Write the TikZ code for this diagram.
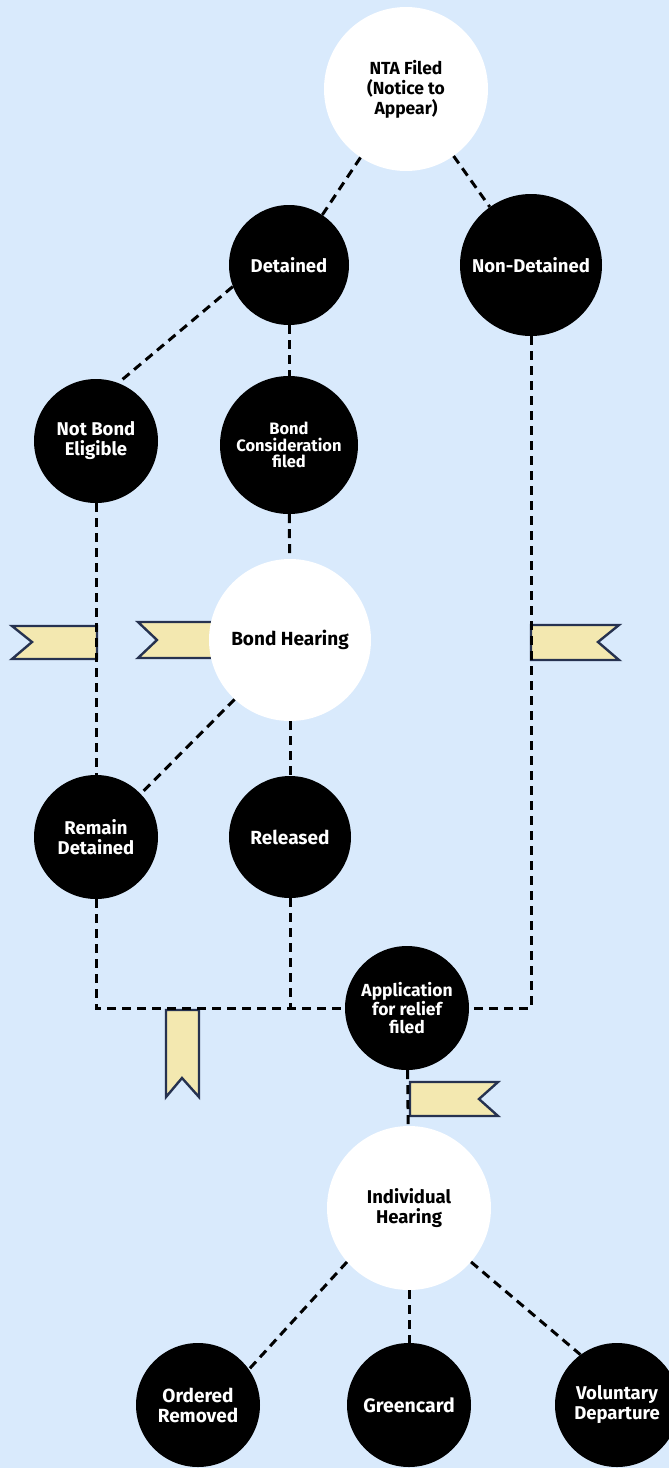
\documentclass[tikz,border=0pt]{standalone}
\usepackage{fontspec}
\setmainfont{Fira Sans}
\usetikzlibrary{backgrounds}
\definecolor{bgblue}{RGB}{217,234,252}
\definecolor{ribfill}{RGB}{243,232,176}
\definecolor{ribline}{RGB}{38,50,80}
\begin{document}
\begin{tikzpicture}[x=1pt,y=-1pt,
 wnode/.style={circle,fill=white,inner sep=0pt,align=center,text=black,font=\bfseries\fontsize{18.5}{20}\selectfont},
 bnode/.style={circle,fill=black,inner sep=0pt,align=center,text=white,font=\bfseries\fontsize{18.5}{20}\selectfont},
 conn/.style={draw=black,line width=3pt,dash pattern=on 9pt off 6pt},
 ribbon/.style={fill=ribfill,draw=ribline,line width=2.4pt,line join=miter}]
\useasboundingbox (0,0) rectangle (669,1468);

\node[wnode,minimum size=164pt,font=\bfseries\fontsize{17.5}{20}\selectfont] (nta) at (406,89) {NTA Filed\\(Notice to\\Appear)};
\node[bnode,minimum size=120pt] (det) at (289,265) {Detained};
\node[bnode,minimum size=142pt] (nd) at (531,265) {Non-Detained};
\node[bnode,minimum size=124pt] (nbe) at (96,441) {Not Bond\\Eligible};
\node[bnode,minimum size=138pt,font=\bfseries\fontsize{16.5}{16.5}\selectfont] (bcf) at (289,445) {Bond\\Consideration\\filed};
\node[wnode,minimum size=162pt,font=\bfseries\fontsize{19}{20}\selectfont] (bh) at (290,640) {Bond Hearing};
\node[bnode,minimum size=124pt] (rd) at (96,837) {Remain\\Detained};
\node[bnode,minimum size=122pt,font=\bfseries\fontsize{19}{20}\selectfont] (rel) at (290,837) {Released};
\node[bnode,minimum size=124pt,font=\bfseries\fontsize{17.5}{18}\selectfont] (app) at (407,1008) {Application\\for relief\\filed};
\node[wnode,minimum size=164pt] (ih) at (409,1208) {Individual\\Hearing};
\node[bnode,minimum size=124pt,font=\bfseries\fontsize{19}{20}\selectfont] (or) at (198,1405) {Ordered\\Removed};
\node[bnode,minimum size=124pt,font=\bfseries\fontsize{19.5}{20}\selectfont] (gc) at (409,1405) {Greencard};
\node[bnode,minimum size=124pt] (vd) at (617,1405) {Voluntary\\Departure};

\draw[conn] (nta) -- (det);
\draw[conn] (nta) -- (nd);
\draw[conn] (det.201) -- (nbe.69);
\draw[conn] (det) -- (bcf);
\draw[conn] (nbe) -- (rd);
\draw[conn] (bcf) -- (bh);
\draw[conn] (bh.227) -- (rd.44);
\draw[conn] (bh) -- (rel);
\draw[conn] (nd.south) |- (app.east);
\draw[conn] (rd.south) |- (app.west);
\draw[conn] (rel.south) -- (rel.south |- app.west);
\draw[conn] (app) -- (ih);
\draw[conn] (ih.221) -- (or.35);
\draw[conn] (ih) -- (gc);
\draw[conn] (ih.-41) -- (vd.126);

\begin{scope}[on background layer]
\fill[bgblue] (0,0) rectangle (669,1468);
\draw[ribbon] (97,626) -- (12,626) -- (32,642) -- (12,659) -- (97,659) -- cycle;
\draw[ribbon] (250,622) -- (138,622) -- (157,640) -- (138,658) -- (250,658) -- cycle;
\draw[ribbon] (531,625) -- (619,625) -- (598,642) -- (619,660) -- (531,660) -- cycle;
\draw[ribbon] (166,1010) -- (199,1010) -- (199,1097) -- (182,1078) -- (166,1097) -- cycle;
\draw[ribbon] (410,1082) -- (498,1082) -- (479,1099) -- (498,1116) -- (410,1116) -- cycle;
\end{scope}
\end{tikzpicture}
\end{document}
